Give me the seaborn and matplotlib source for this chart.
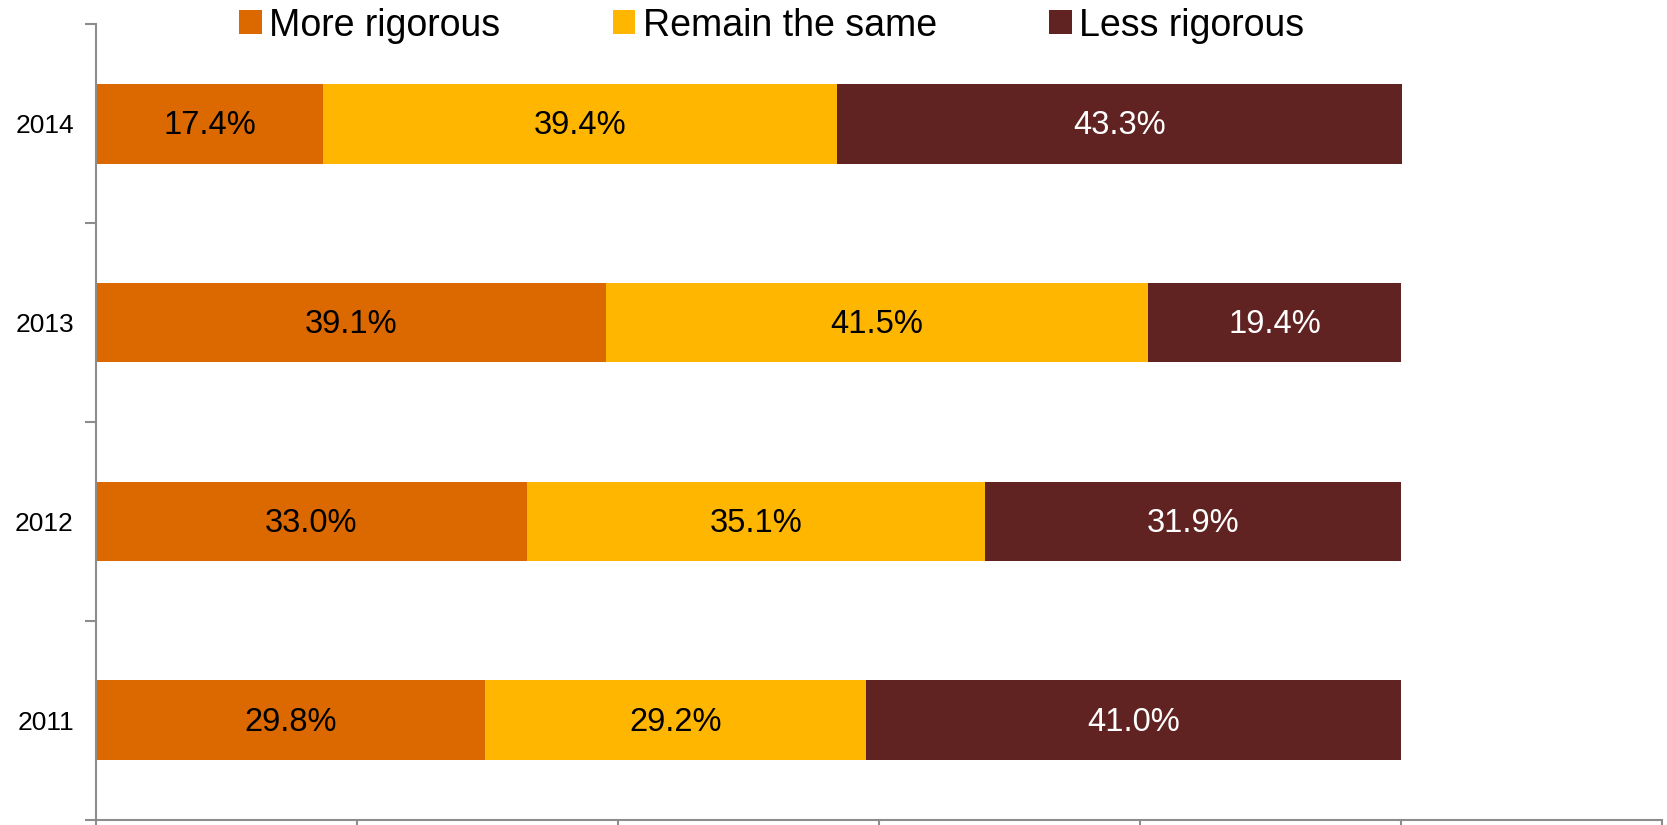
import matplotlib

matplotlib.use("Agg")
import matplotlib.pyplot as plt
from matplotlib.patches import Patch
from matplotlib.ticker import FixedLocator, NullFormatter
import pandas as pd
import seaborn as sns

years = [2011, 2012, 2013, 2014]
more_rigorous = [29.8, 33.0, 39.1, 17.4]
remain_same = [29.2, 35.1, 41.5, 39.4]
less_rigorous = [41.0, 31.9, 19.4, 43.3]

responses = ["More rigorous", "Remain the same", "Less rigorous"]
colors = {"More rigorous": "#DC6900", "Remain the same": "#FFB600", "Less rigorous": "#612322"}

df = pd.DataFrame(
    {
        "year": years * 3,
        "response": [r for r in responses for _ in years],
        "value": more_rigorous + remain_same + less_rigorous,
    }
)

sns.set_theme(style="white")
plt.rcParams["font.family"] = ["Liberation Sans", "DejaVu Sans"]
plt.rcParams["text.color"] = "black"

fig = plt.figure(figsize=(16.67, 8.25), dpi=100)
ax = fig.add_axes([0.0576, 0.0065, 0.9394, 0.964])

# seaborn stacks the last hue level first, so reverse to put "More rigorous" on the left
sns.histplot(
    data=df,
    y="year",
    hue="response",
    weights="value",
    hue_order=responses[::-1],
    palette=colors,
    multiple="stack",
    discrete=True,
    shrink=0.4,
    alpha=1,
    linewidth=0,
    legend=False,
    ax=ax,
)

# segment labels
for p in ax.patches:
    w = p.get_width()
    if w <= 0:
        continue
    fc = p.get_facecolor()
    txt_color = "white" if sum(fc[:3]) < 1.2 else "black"
    ax.text(
        p.get_x() + w / 2,
        p.get_y() + p.get_height() / 2 - 0.01,
        f"{w:.1f}%",
        ha="center",
        va="center",
        fontsize=23.5,
        color=txt_color,
    )

ax.set_xlim(0, 120)
ax.set_ylim(2010.5, 2014.5)
ax.set_xlabel("")
ax.set_ylabel("")

ax.xaxis.set_major_locator(FixedLocator([0, 20, 40, 60, 80, 100, 120]))
ax.xaxis.set_major_formatter(NullFormatter())
ax.tick_params(axis="x", which="major", direction="out", length=8, width=1.5, color="#8c8c8c", bottom=True)

ax.yaxis.set_major_locator(FixedLocator(years))
ax.set_yticklabels([str(y) for y in years])
ax.yaxis.set_minor_locator(FixedLocator([2010.5, 2011.5, 2012.5, 2013.5, 2014.5]))
ax.tick_params(axis="y", which="major", length=0, pad=16, labelsize=19, labelcolor="black")
ax.tick_params(axis="y", which="minor", direction="out", length=8, width=1.5, color="#8c8c8c", left=True)

for side in ["top", "right"]:
    ax.spines[side].set_visible(False)
for side in ["left", "bottom"]:
    ax.spines[side].set_color("#8c8c8c")
    ax.spines[side].set_linewidth(1.5)

handles = [Patch(facecolor=colors[r], edgecolor="none", label=r) for r in responses]
leg = fig.legend(
    handles=handles,
    loc="center",
    bbox_to_anchor=(0.463, 0.969),
    ncol=3,
    frameon=False,
    fontsize=27,
    handlelength=0.6,
    handleheight=0.6,
    handletextpad=0.2,
    columnspacing=3.0,
)
for t in leg.get_texts():
    t.set_color("black")

plt.savefig("out.png", dpi=100)
